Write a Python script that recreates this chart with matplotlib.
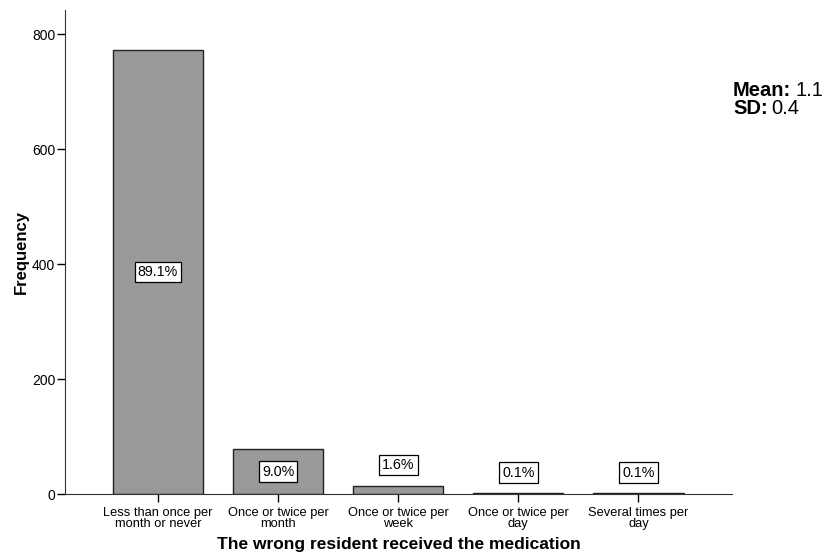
import numpy as np
import matplotlib.pyplot as plt

plt.rcParams['font.family'] = ['Liberation Sans', 'DejaVu Sans']

categories = ['Less than once per\nmonth or never', 'Once or twice per\nmonth',
              'Once or twice per\nweek', 'Once or twice per\nday', 'Several times per\nday']
counts = [772, 78, 14, 1, 1]
pct_labels = ['89.1%', '9.0%', '1.6%', '0.1%', '0.1%']
mean_val = '1.1'
sd_val = '0.4'

fig = plt.figure(figsize=(8.32, 5.56), dpi=100)
ax = fig.add_axes([0.078, 0.1115, 0.802, 0.8705])

x = np.arange(len(categories))
ax.bar(x, counts, width=0.75, color='#999999', edgecolor='#222222', linewidth=1.0)

box = dict(boxstyle='square,pad=0.22', facecolor='white', edgecolor='black', linewidth=0.9)
for xi, c, lab in zip(x, counts, pct_labels):
    if c > 40:
        ax.text(xi, c / 2, lab, ha='center', va='center', fontsize=10.3, bbox=box)
    else:
        ax.annotate(lab, (xi, c), xytext=(0, 15), textcoords='offset points',
                    ha='center', va='center', fontsize=10.3, bbox=box)

ax.set_xlim(-0.775, 4.78)
ax.set_ylim(0, 842)
ax.set_yticks([0, 200, 400, 600, 800])
ax.set_xticks(x)
ax.set_xticklabels(categories, fontsize=9.3, linespacing=0.95)
ax.tick_params(axis='y', labelsize=10, length=6, width=1, direction='out', pad=1)
ax.tick_params(axis='x', length=6, width=1, direction='out', pad=3)
ax.spines['top'].set_visible(False)
ax.spines['right'].set_visible(False)
ax.spines['left'].set_color('#333333')
ax.spines['bottom'].set_color('#333333')

ax.set_xlabel('The wrong resident received the medication', fontsize=12.5,
              fontweight='bold', labelpad=5)
ax.set_ylabel('Frequency', fontsize=12, fontweight='bold')
ax.yaxis.set_label_coords(-0.054, 0.5)

# summary stats: bold key followed by plain value
fig.canvas.draw()
rend = fig.canvas.get_renderer()
for key, val, yf in [('Mean:', mean_val, 0.838), ('SD:', sd_val, 0.805)]:
    t = fig.text(0.881, yf, key, fontsize=14.5, fontweight='bold', va='center')
    bb = t.get_window_extent(renderer=rend)
    fig.text((bb.x1 + 4) / fig.bbox.width, yf, val, fontsize=14.5, va='center')

fig.savefig('out.png', dpi=100)
